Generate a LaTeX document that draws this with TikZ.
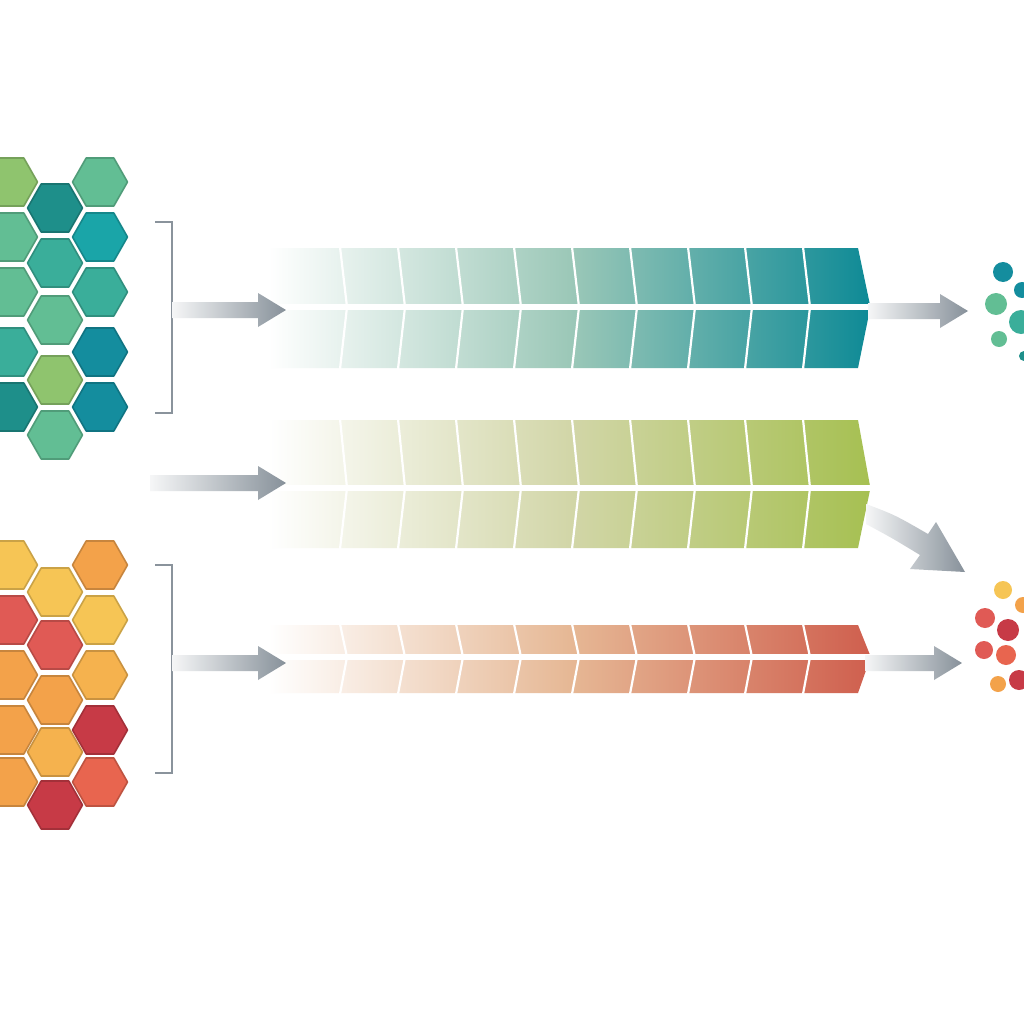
\documentclass[tikz,border=0pt]{standalone}
\usetikzlibrary{shapes.geometric}
\definecolor{arrg}{HTML}{87919A}
\definecolor{brk}{HTML}{8A939C}
\definecolor{cteal}{HTML}{0E8A96}
\definecolor{cteall}{HTML}{9CC8B8}
\definecolor{colive}{HTML}{A6C052}
\definecolor{colivel}{HTML}{D2D6A8}
\definecolor{cred}{HTML}{CF5F4E}
\definecolor{credl}{HTML}{E6B895}
\definecolor{Ga}{HTML}{8FC46E}
\definecolor{Gb}{HTML}{62BE94}
\definecolor{Gc}{HTML}{3AAE9A}
\definecolor{Ta}{HTML}{1E8F8A}
\definecolor{Tb}{HTML}{1AA5A8}
\definecolor{Tc}{HTML}{148D9E}
\definecolor{Ya}{HTML}{F6C555}
\definecolor{Oa}{HTML}{F3A24A}
\definecolor{Ob}{HTML}{F5B24E}
\definecolor{Ra}{HTML}{E05A55}
\definecolor{Rb}{HTML}{C73A46}
\definecolor{Rc}{HTML}{E8654F}
\newcommand{\hexat}[3]{\path[fill=#3,draw=#3!82!black,line width=1.6pt,line join=round]
  (#1+27.5,#2)--(#1+13.8,#2+24)--(#1-13.8,#2+24)--(#1-27.5,#2)--(#1-13.8,#2-24)--(#1+13.8,#2-24)--cycle;}
\newcommand{\harrow}[3]{\shade[left color=arrg!8,right color=arrg]
  (#1,#3-8)--(#2-28,#3-8)--(#2-28,#3-17)--(#2,#3)--(#2-28,#3+17)--(#2-28,#3+8)--(#1,#3+8)--cycle;}
\newcommand{\stripbar}[7]{% x1 x2 ytop ygap ybot color midcolor
  \shade[left color=white,right color=#6,middle color=#7]
   (#1,#3)--(#2-12,#3)--(#2,#4-2)--(#2,#4+2)--(#2-12,#5)--(#1,#5)--cycle;
  \foreach \dx in {340,398,456,514,572,630,688,745,803}
    \draw[white,line width=2.2pt] (\dx,#3-1)--(\dx+7,#4)--(\dx,#5+1);
  \fill[white] (#1-2,#4-3) rectangle (#2+2,#4+3);
}
\begin{document}
\begin{tikzpicture}[x=1pt,y=-1pt]
\useasboundingbox (0,0) rectangle (1024,1024);
\fill[white] (0,0) rectangle (1024,1024);
% top hex group
\hexat{10}{182}{Ga}
\hexat{10}{237}{Gb}
\hexat{10}{292}{Gb}
\hexat{10}{352}{Gc}
\hexat{10}{407}{Ta}
\hexat{55}{208}{Ta}
\hexat{55}{263}{Gc}
\hexat{55}{320}{Gb}
\hexat{55}{380}{Ga}
\hexat{55}{435}{Gb}
\hexat{100}{182}{Gb}
\hexat{100}{237}{Tb}
\hexat{100}{292}{Gc}
\hexat{100}{352}{Tc}
\hexat{100}{407}{Tc}
% bottom hex group
\hexat{10}{565}{Ya}
\hexat{10}{620}{Ra}
\hexat{10}{675}{Oa}
\hexat{10}{730}{Oa}
\hexat{10}{782}{Oa}
\hexat{55}{592}{Ya}
\hexat{55}{645}{Ra}
\hexat{55}{700}{Oa}
\hexat{55}{752}{Ob}
\hexat{55}{805}{Rb}
\hexat{100}{565}{Oa}
\hexat{100}{620}{Ya}
\hexat{100}{675}{Ob}
\hexat{100}{730}{Rb}
\hexat{100}{782}{Rc}
% brackets
\draw[brk,line width=1.6pt] (155,222)--(172,222)--(172,413)--(155,413);
\draw[brk,line width=1.6pt] (155,565)--(172,565)--(172,773)--(155,773);
% bars
\stripbar{268}{870}{248}{307}{368}{cteal}{cteall}
\stripbar{268}{870}{420}{488}{548}{colive}{colivel}
\stripbar{268}{870}{625}{657}{693}{cred}{credl}
% arrows
\harrow{172}{286}{310}
\harrow{150}{286}{483}
\harrow{172}{286}{663}
\harrow{868}{968}{311}
\harrow{865}{962}{663}
\shade[left color=arrg!8,right color=arrg]
 (866,504) .. controls (895,515) .. (928,534) -- (936,522) -- (965,572) -- (910,569)
 -- (920,555) .. controls (892,538) .. (866,524) -- cycle;
% dots top
\fill[Tc] (1003,272) circle (10);
\fill[Tc] (1022,290) circle (8);
\fill[Gb] (996,304) circle (11);
\fill[Gc] (1021,322) circle (12);
\fill[Gb] (999,339) circle (8);
\fill[Ta] (1024,356) circle (5);
% dots bottom
\fill[Ya] (1003,590) circle (9);
\fill[Oa] (1023,605) circle (8);
\fill[Ra] (985,618) circle (10);
\fill[Rb] (1008,630) circle (11);
\fill[Ra] (984,650) circle (9);
\fill[Rc] (1006,655) circle (10);
\fill[Oa] (998,684) circle (8);
\fill[Rb] (1019,680) circle (10);
\end{tikzpicture}
\end{document}
